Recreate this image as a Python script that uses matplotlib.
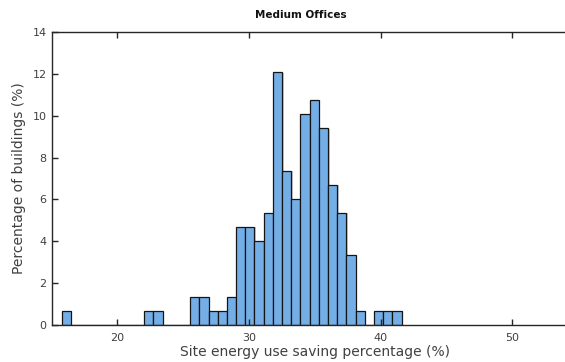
import numpy as np
import matplotlib.pyplot as plt
import matplotlib.patheffects as pe

# histogram of site energy use savings, 37 bins
bin_start = 15.76
bin_width = 0.698
pct_buildings = [0.67, 0, 0, 0, 0, 0, 0, 0, 0, 0.67,
                 0.67, 0, 0, 0, 1.34, 1.34, 0.67, 0.67, 1.34, 4.70,
                 4.70, 4.03, 5.37, 12.08, 7.38, 6.04, 10.07, 10.74, 9.40, 6.71,
                 5.37, 3.36, 0.67, 0, 0.67, 0.67, 0.67]

edges = bin_start + bin_width * np.arange(len(pct_buildings) + 1)

fig = plt.figure(figsize=(5.65, 3.62), dpi=100)
ax = fig.add_axes([0.0912, 0.1022, 0.932, 0.8094])

bars = ax.bar(edges[:-1], pct_buildings, width=bin_width, align='edge',
              color='#74aee6', edgecolor='#151515', linewidth=0.9)
for b in bars:
    b.set_path_effects([pe.SimplePatchShadow(offset=(1.2, -0.6), shadow_rgbFace='#9a9a9a', alpha=0.5),
                        pe.Normal()])

ax.set_xlim(15, 55)
ax.set_ylim(0, 14)
ax.set_xticks([20, 30, 40, 50])
ax.set_yticks(range(0, 15, 2))

for s in ax.spines.values():
    s.set_color('#262626')
    s.set_linewidth(1.0)

ax.tick_params(direction='in', length=4, width=1, colors='#262626',
               labelcolor='#404040', labelsize=8, top=True, right=True)
ax.tick_params(axis='x', pad=6)

ax.set_title('Medium Offices', fontsize=7.5, fontweight='bold', color='#111111',
             x=0.474, pad=10)
ax.set_xlabel('Site energy use saving percentage (%)', fontsize=10, color='#404040', labelpad=1)
ax.set_ylabel('Percentage of buildings (%)', fontsize=10, color='#404040', labelpad=5)

fig.savefig('out.png', dpi=100)
